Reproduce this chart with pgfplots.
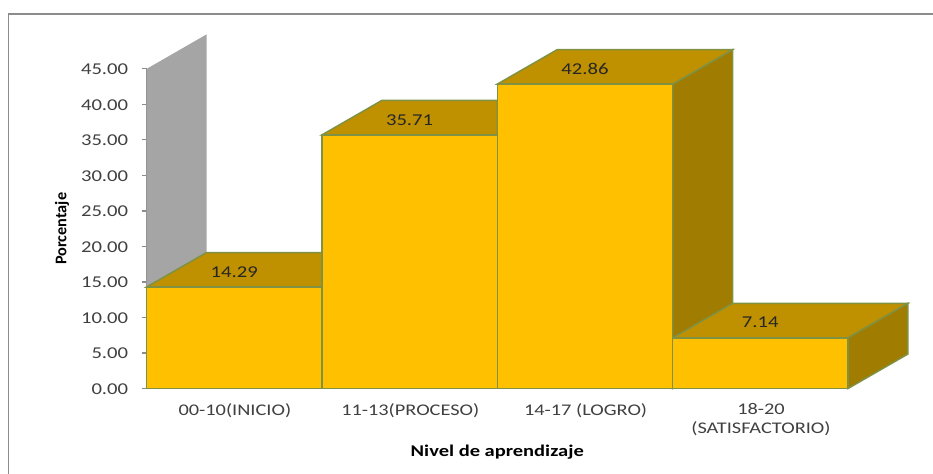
\documentclass[border=0pt]{standalone}
\usepackage{fontspec}
\usepackage{pgfplots}
\pgfplotsset{compat=1.18}
\setmainfont[FakeStretch=1.25]{Carlito}
\newfontfamily\narrowfont{Carlito}
\definecolor{barfront}{HTML}{FFC000}
\definecolor{bartop}{HTML}{BF9000}
\definecolor{barside}{HTML}{A07C00}
\definecolor{baredge}{HTML}{7F9244}
\definecolor{wall}{HTML}{A5A5A5}
\definecolor{axgray}{HTML}{8C8C8C}
\definecolor{txt}{HTML}{404040}
\begin{document}
\begin{tikzpicture}[x=0.75pt,y=0.75pt]
\path[use as bounding box] (0,0) rectangle (933,474);
\draw[axgray,line width=1.1pt] (8.5,0)--(8.5,460)--(933,460);
\begin{axis}[
  at={(109.9pt,64.1pt)}, anchor=south west,
  scale only axis, width=526.1pt, height=239.7pt,
  xmin=0, xmax=4, ymin=0, ymax=45,
  clip=false,
  axis x line=bottom, axis y line=left,
  axis line style={axgray,line width=0.9pt,-},
  xtick={0.5,1.5,2.5,3.5},
  xticklabels={00-10(INICIO),11-13(PROCESO),14-17 (LOGRO),{18-20\\(SATISFACTORIO)}},
  xticklabel style={align=center,font=\fontsize{12.2pt}{14.2pt}\selectfont,text=txt,anchor=north,yshift=-3.8pt,xshift=0.5pt},
  x tick style={draw=none},
  ytick={0,5,...,45},
  y tick style={axgray,line width=0.8pt},
  tick align=outside, major tick length=3.75pt,
  /pgf/number format/assume math mode=true,
  yticklabel={\pgfmathprintnumber[fixed,fixed zerofill,precision=2]{\tick}},
  yticklabel style={font=\fontsize{12.4pt}{14pt}\selectfont,text=txt,xshift=-6.5pt,yshift=-0.5pt},
  xlabel={Nivel de aprendizaje},
  ylabel={Porcentaje},
  every axis x label/.style={at={(axis description cs:0.5,-0.2)},anchor=center,font=\fontsize{12.3pt}{14pt}\selectfont\bfseries,text=black},
  every axis y label/.style={at={(axis description cs:-0.1204,0.5)},rotate=90,anchor=center,font=\narrowfont\fontsize{12.2pt}{14pt}\selectfont\bfseries,text=black},
]
\addplot[fill=wall,draw=none] coordinates {(0,14.29)(0,45)(0.342,49.86)(0.342,19.15)} --cycle;
\addplot[fill=barside,draw=baredge,line width=1.1pt] coordinates {(3,0)(3,42.86)(3.342,47.72)(3.342,4.86)} --cycle;
\addplot[fill=bartop,draw=baredge,line width=1.1pt] coordinates {(0,14.29)(0.342,19.15)(1,19.15)(1,14.29)} --cycle;
\addplot[fill=bartop,draw=baredge,line width=1.1pt] coordinates {(1,35.71)(1.342,40.57)(2,40.57)(2,35.71)} --cycle;
\addplot[fill=bartop,draw=baredge,line width=1.1pt] coordinates {(2,42.86)(2.342,47.72)(3.342,47.72)(3,42.86)} --cycle;
\addplot[fill=bartop,draw=baredge,line width=1.1pt] coordinates {(3,7.14)(3.342,12)(4.342,12)(4,7.14)} --cycle;
\addplot[fill=barside,draw=baredge,line width=1.1pt] coordinates {(4,0)(4,7.14)(4.342,12)(4.342,4.86)} --cycle;
\addplot[ybar interval,fill=barfront,draw=baredge,line width=1.1pt] coordinates {(0,14.29)(1,35.71)(2,42.86)(3,7.14)(4,7.14)};
\addplot[draw=none,nodes near coords={\pgfmathprintnumber[fixed,fixed zerofill,precision=2,assume math mode=true]{\pgfplotspointmeta}},
  every node near coord/.style={anchor=center,yshift=11.4pt,font=\fontsize{12.4pt}{14pt}\selectfont,text=black!85}]
  coordinates {(0.5,14.29)(1.5,35.71)(2.5,42.86)(3.5,7.14)};
\end{axis}
\end{tikzpicture}
\end{document}
